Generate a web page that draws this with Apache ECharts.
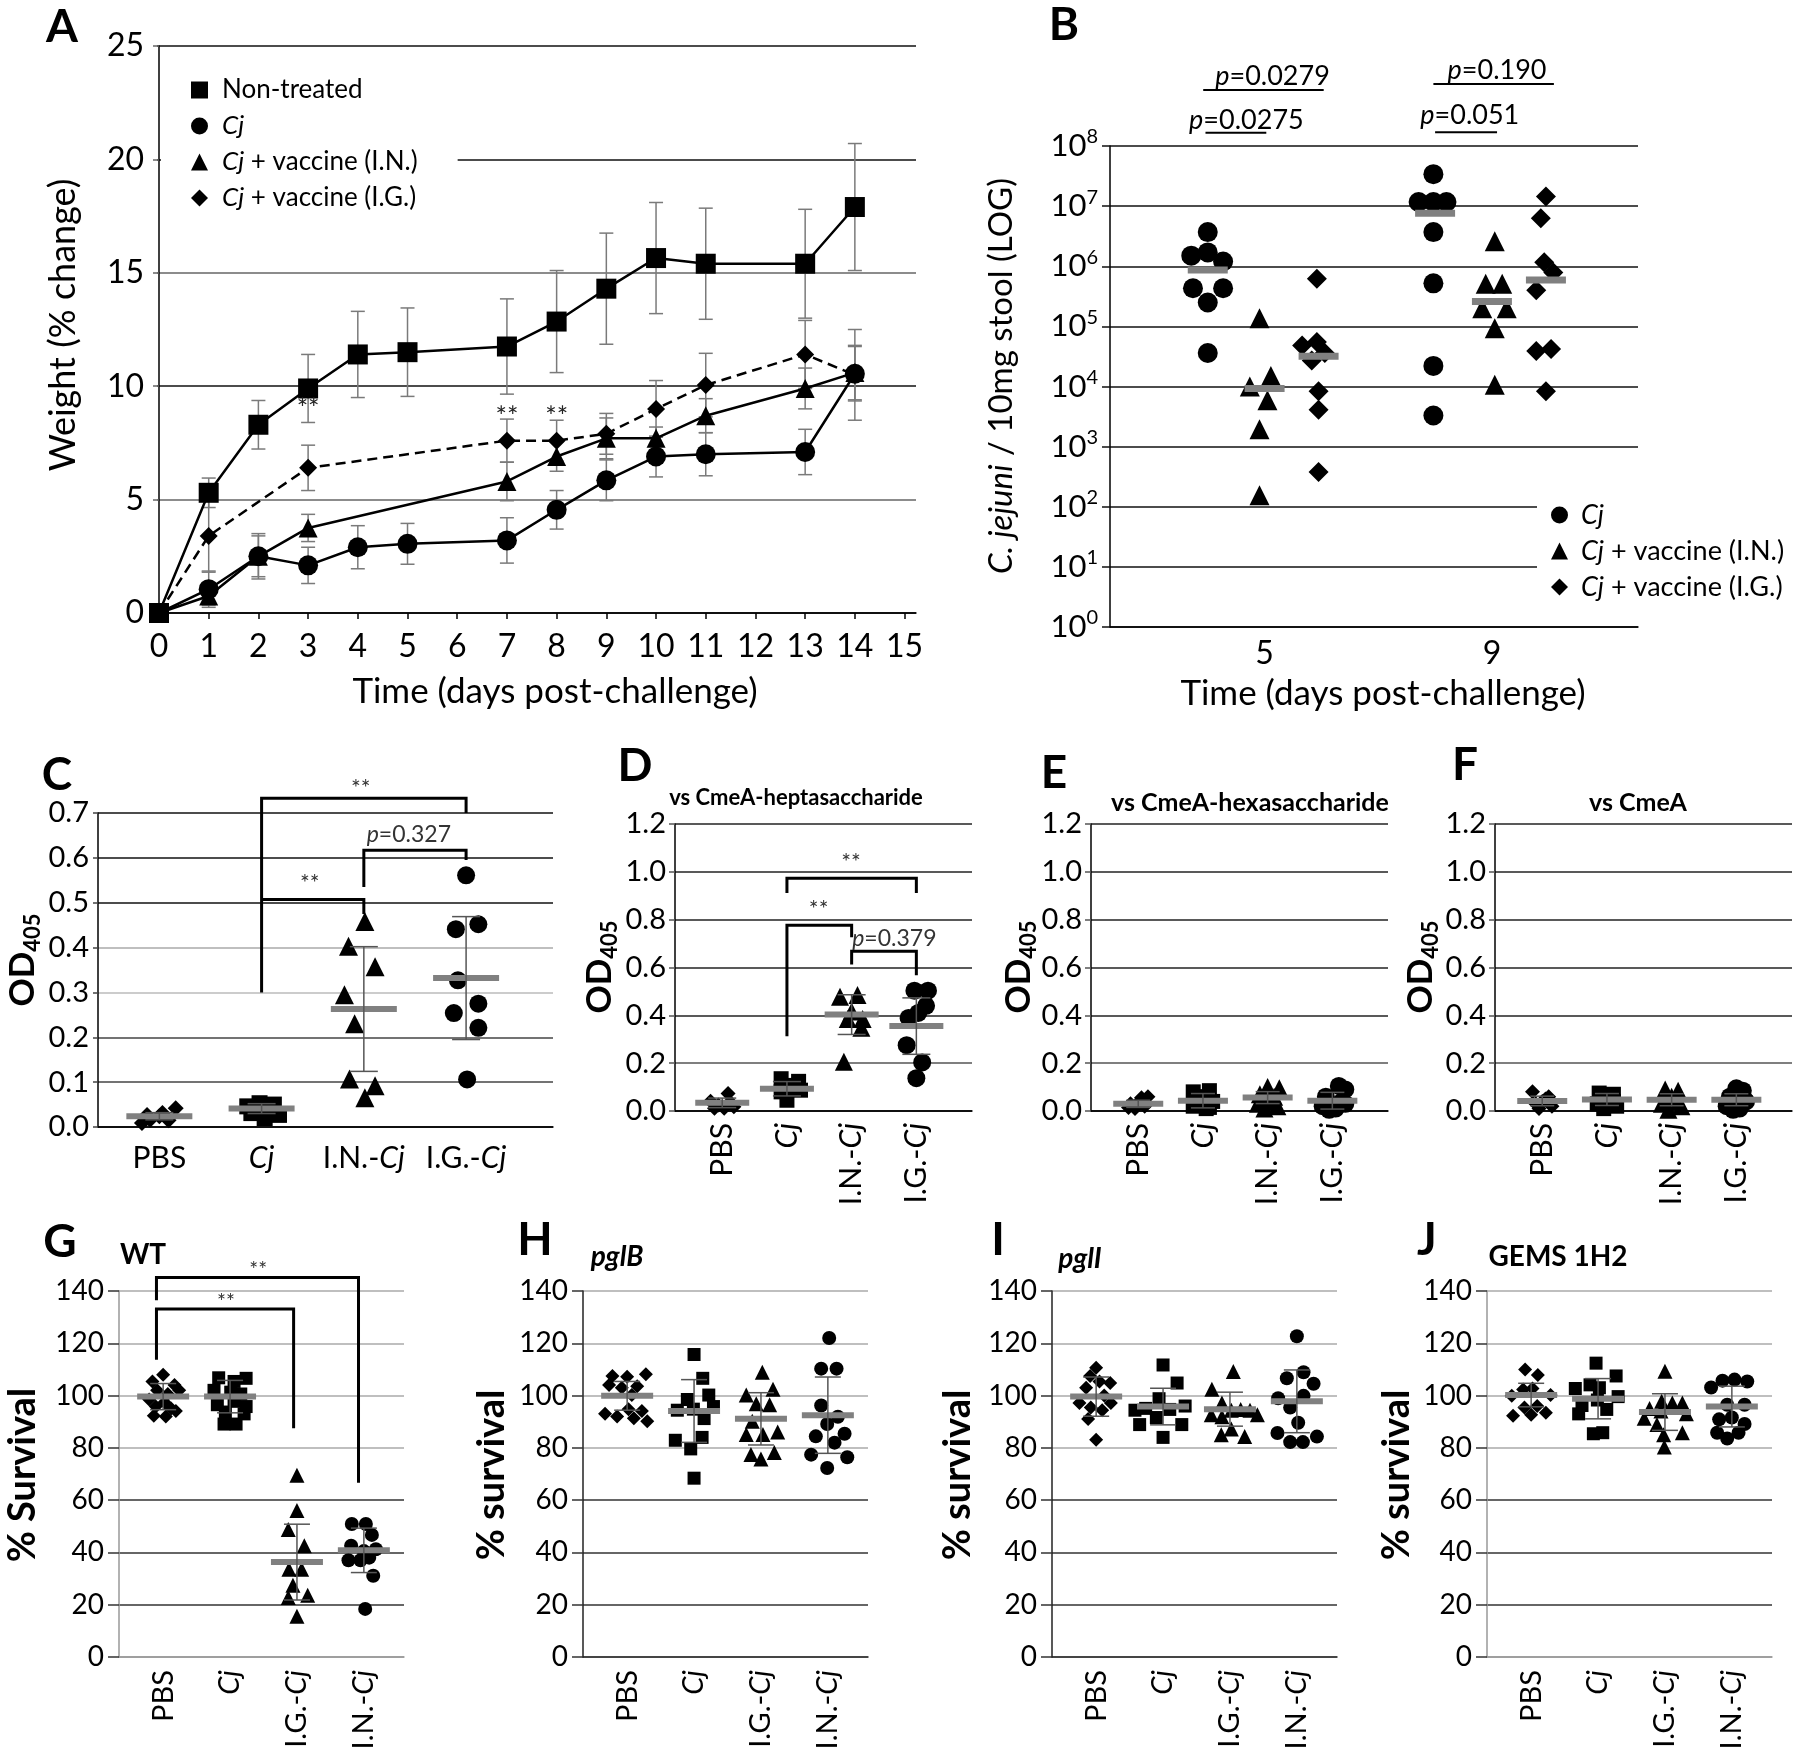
<!DOCTYPE html>
<html><head><meta charset="utf-8">
<script src="https://cdn.jsdelivr.net/npm/echarts@6/dist/echarts.min.js"></script>
<style>html,body{margin:0;padding:0;background:#fff}#c{width:1800px;height:1756px}</style>
</head><body><div id="c"></div>
<script>
const ff = 'Lato, "Liberation Sans", sans-serif';

// ---------------- Panel A : weight change ----------------
const aDays = [0,1,2,3,4,5,7,8,9,10,11,13,14];
const aNonTreated   = [0,5.3,8.3,9.9,11.4,11.5,11.75,12.85,14.3,15.65,15.4,15.4,17.9];
const aNonTreatedSD = [0,0.65,1.07,1.5,1.9,1.95,2.1,2.25,2.45,2.45,2.45,2.4,2.8];
const aCj   = [0,1.05,2.5,2.1,2.9,3.05,3.2,4.55,5.85,6.9,7.0,7.1,10.55];
const aCjSD = [0,0.8,1.0,0.8,0.95,0.9,1.0,0.85,0.9,0.9,0.95,1.0,1.2];
const aINDays = [0,1,2,3,7,8,9,10,11,13,14];
const aIN   = [0,0.75,2.5,3.75,5.8,6.9,7.7,7.7,8.7,9.9,10.6];
const aINSD = [0,0.4,0.9,0.6,0.85,0.65,0.9,0.5,0.75,0.9,1.2];
const aIGDays = [0,1,3,7,8,9,10,11,13,14];
const aIG   = [0,3.4,6.4,7.6,7.6,7.9,9.0,10.05,11.4,10.5];
const aIGSD = [0,1.6,1.0,0.95,0.9,0.9,1.25,1.4,1.5,2.0];
const aXTicks = [0,1,2,3,4,5,6,7,8,9,10,11,12,13,14,15];
const aStars = [[3,9.0],[7,8.65],[8,8.65]];

// ---------------- Panel B : colonisation (log) ----------------
const bDays = [5, 9];
// [jitter, CFU]
const bCj5 = [[0,3.7e6],[-0.29,1.5e6],[0,1.7e6],[0.27,1.2e6],[-0.26,4.3e5],[0.27,4.3e5],[0,2.5e5],[0,3.6e4]];
const bIN5 = [[-0.09,1.36e5],[0.11,1.5e4],[-0.26,1.0e4],[0.05,5.9e3],[-0.09,1.95e3],[-0.09,155]];
const bIG5 = [[-0.03,6.2e5],[-0.29,4.8e4],[-0.03,5.5e4],[0.11,3.6e4],[-0.12,2.7e4],[0,8.3e3],[0,4.1e3],[0,380]];
const bCj9 = [[-0.03,3.4e7],[-0.29,1.17e7],[-0.03,1.17e7],[0.2,1.17e7],[-0.03,3.7e6],[-0.03,5.2e5],[-0.03,2.2e4],[-0.03,3.3e3]];
const bIN9 = [[0.05,2.6e6],[-0.11,5.1e5],[0.18,5.1e5],[-0.17,2.0e5],[0.26,2.0e5],[0.05,9.3e4],[0.05,1.07e4]];
const bIG9 = [[0,1.45e7],[-0.09,6.3e6],[-0.03,1.17e6],[0.13,7.9e5],[-0.17,4.0e5],[-0.17,3.9e4],[0.09,4.2e4],[0,8.3e3]];
const bMedCj = [8.7e5, 7.6e6];
const bMedIN = [9.3e3, 2.6e5];
const bMedIG = [3.2e4, 5.9e5];
const bPLines = [[3.92,6.04,8.5e8],[3.96,5.03,1.66e8],[7.97,10.09,1.07e9],[8.0,9.09,1.7e8]];
const bPLabels = ['{i|p}=0.0279','{i|p}=0.0275','{i|p}=0.190','{i|p}=0.051'];
const bPLabelPos = [[5.14,1.45e9],[4.68,2.7e8],[9.09,1.8e9],[8.61,3.2e8]];

// ---------------- Panels C-F : ELISA OD405 ----------------
const cdefCats = ['PBS','{i|Cj}','I.N.-{i|Cj}','I.G.-{i|Cj}'];
const cPBS = [[-0.17,0.009],[-0.09,0.016],[0,0.024],[0.09,0.015],[0.16,0.042],[-0.12,0.027],[0.03,0.031]];
const cCj  = [[-0.14,0.046],[-0.02,0.053],[0.12,0.05],[-0.1,0.031],[0.03,0.02],[0.17,0.027],[0.02,0.039]];
const cIN  = [[0.01,0.458],[-0.15,0.403],[0.11,0.357],[-0.19,0.295],[-0.09,0.23],[-0.14,0.107],[0.11,0.092],[0.01,0.065]];
const cIG  = [[0,0.561],[-0.1,0.441],[0.12,0.452],[-0.08,0.327],[-0.12,0.254],[0.12,0.275],[0.12,0.221],[0.01,0.106]];
const cMean = [0.024,0.041,0.263,0.332];
const cSD   = [0.008,0.011,0.139,0.137];
const cBrackets = [[2,4,0.733,0.30,0.70],[2,3,0.507,0.507,0.475],[3,4,0.617,0.535,0.595]];
const cBracketLabels = ['**','**','{i|p}=0.327'];
const cBracketLabelPos = [[2.97,0.755],[2.47,0.542],[3.44,0.653]];

const dPBS = [[0.09,0.073],[-0.18,0.041],[-0.06,0.025],[0.03,0.011],[0.18,0.018],[-0.12,0.011],[0.12,0.038]];
const dCj  = [[-0.09,0.135],[0.18,0.124],[0,0.107],[0.09,0.093],[-0.09,0.08],[0.21,0.087],[0,0.045]];
const dIN  = [[-0.18,0.478],[0.09,0.485],[0,0.416],[-0.06,0.385],[0.17,0.385],[0.15,0.348],[-0.12,0.206]];
const dIG  = [[-0.03,0.503],[0.18,0.503],[0.15,0.44],[0.03,0.41],[-0.12,0.389],[-0.15,0.275],[0.09,0.203],[0,0.137]];
const dMean = [0.034,0.093,0.403,0.355];
const dSD   = [0.02,0.03,0.083,0.118];
const dBrackets = [[2,4,0.973,0.911,0.911],[2,3,0.777,0.313,0.726],[3,4,0.668,0.613,0.568]];
const dBracketLabels = ['**','**','{i|p}=0.379'];
const dBracketLabelPos = [[2.99,1.038],[2.49,0.843],[3.66,0.723]];

const ePBS = [[-0.12,0.03],[0.05,0.055],[0.15,0.06],[-0.05,0.01],[0.1,0.02],[-0.15,0.015],[0,0.035]];
const eCj  = [[-0.15,0.08],[0.1,0.085],[-0.1,0.05],[0.15,0.04],[-0.15,0.02],[0.1,0.015],[0,0.06],[0.05,0.01]];
const eIN  = [[0,0.1],[0.18,0.095],[-0.12,0.07],[0.1,0.06],[-0.15,0.03],[0.15,0.02],[0,0.04],[-0.05,0.01]];
const eIG  = [[0.1,0.105],[0.2,0.09],[-0.1,0.06],[0.15,0.04],[-0.15,0.02],[0.05,0.01],[-0.05,0.005],[0.2,0.03]];
const eMean = [0.03,0.043,0.056,0.043];
const eSD   = [0.015,0.03,0.025,0.035];

const fPBS = [[-0.15,0.08],[0.1,0.06],[0,0.04],[-0.1,0.03],[0.15,0.02],[-0.05,0.01],[0.05,0.05]];
const fCj  = [[-0.12,0.075],[0.1,0.07],[0,0.05],[-0.15,0.03],[0.15,0.02],[-0.05,0.01],[0.1,0.04]];
const fIN  = [[-0.1,0.09],[0.1,0.085],[0,0.06],[-0.15,0.03],[0.15,0.02],[-0.05,0.005],[0.1,0.04]];
const fIG  = [[0,0.095],[0.1,0.085],[-0.1,0.06],[0.15,0.04],[-0.15,0.02],[0.05,0.01],[-0.05,0.005],[0.12,0.05]];
const fMean = [0.042,0.048,0.047,0.047];
const fSD   = [0.02,0.025,0.025,0.025];

// ---------------- Panels G-J : % survival ----------------
const ghijCats = ['PBS','{i|Cj}','I.G.-{i|Cj}','I.N.-{i|Cj}'];
const gPBS = [[0,108],[-0.16,105.4],[0.17,104],[-0.09,102],[0.24,102],[0.07,100.6],[-0.21,98.5],[0.02,97.4],[-0.11,95.8],[0.12,95.1],[-0.14,92.3],[0.19,94.1],[0.04,92]];
const gCj  = [[-0.17,106.8],[0.06,105.4],[0.24,106.6],[-0.24,102],[0.01,101.3],[0.16,100.6],[-0.19,96.5],[0.06,97.8],[0.24,95.8],[-0.07,93.7],[0.21,93],[-0.09,89.1],[0.09,89.1]];
const gIG  = [[0,69.5],[0,56],[-0.13,48.8],[0.11,42.6],[-0.12,33.6],[0.07,33.6],[-0.06,27.4],[-0.13,22.8],[0.16,23.6],[0,15.6]];
const gIN  = [[-0.18,50.9],[0.03,50.9],[0.12,46.7],[-0.19,42.6],[0,40.5],[0.18,41.2],[-0.23,37],[-0.05,37],[0.08,38],[0.14,31.1],[0.02,18.4]];
const gMean = [99.6,99.6,36.3,40.8];
const gSD   = [5,6.2,14.5,8.5];
const gBrackets = [[0.9,3.92,145.2,136.5,66.7],[0.9,2.95,133.1,113.7,87.5]];
const gBracketLabels = ['**','**'];
const gBracketLabelPos = [[2.42,147.8],[1.94,135.6]];

const hPBS = [[-0.22,107.5],[0,107.2],[0.28,108.2],[-0.27,104],[-0.08,103],[0.15,103.6],[0.07,100.2],[0.02,94.8],[0.22,94.1],[-0.33,93],[-0.15,92],[0.1,91.3],[0.3,90.2]];
const hCj  = [[0,115.7],[0.13,106.6],[0.22,100.2],[-0.1,98.5],[0.29,95.8],[-0.25,94.4],[-0.01,94.8],[0.15,91.2],[0.12,84],[-0.28,82.9],[-0.05,79.6],[0,68.4]];
const hIG  = [[0.02,108.9],[0.18,102.4],[-0.22,100.2],[-0.07,96.9],[0.13,96.5],[-0.13,90.2],[-0.22,85.1],[0.03,85.1],[0.25,86.1],[-0.15,77.5],[0.2,78.2],[0,75.7]];
const hIN  = [[0.02,122],[-0.1,110.3],[0.13,110.3],[-0.1,96.2],[0.15,91.9],[-0.01,89.1],[-0.18,84.4],[0.25,85.4],[0.1,82],[-0.25,77.4],[0.29,76.4],[-0.01,72.3]];
const hMean = [99.9,94.1,91.1,92.5];
const hSD   = [5.5,12,10,14.6];

const iPBS = [[0,110.6],[-0.09,107.5],[-0.15,103],[0.05,105.4],[0.21,104.8],[0.12,100],[-0.25,97.2],[-0.08,95.4],[0.09,94.4],[0.22,97.2],[-0.12,91],[0,83.1]];
const iCj  = [[0,111.7],[0.21,104.8],[-0.06,98.8],[-0.42,94.4],[-0.26,95.1],[-0.1,91.6],[0.1,94.7],[0.33,96],[-0.35,88.9],[0.28,88.9],[0,84]];
const iIG  = [[0.05,109.2],[-0.27,102.4],[-0.12,97.2],[-0.28,92.7],[-0.12,91.9],[0.02,94.4],[0.16,94.7],[0.3,94.4],[0.41,92.7],[0.02,87.2],[-0.13,85],[0.22,84.3]];
const iIN  = [[0,122.7],[-0.15,106.6],[0.1,108.9],[0.25,104.5],[-0.28,99],[0.1,99.9],[-0.1,95.4],[0.02,89.6],[-0.29,85.7],[0.3,84.3],[-0.1,82.2],[0.09,82.2]];
const iMean = [99.6,95.8,94.8,97.8];
const iSD   = [7.5,7,6.5,12];

const jPBS = [[-0.09,110],[0.1,107.9],[-0.29,99.9],[-0.12,102.3],[0.02,102.7],[0.29,100.2],[-0.1,95.4],[0.09,96],[-0.27,92.3],[0.22,93.4],[0,92.7]];
const jCj  = [[-0.03,112.4],[0.27,107.5],[-0.12,104.1],[-0.34,102.7],[0.02,103],[0.3,99.6],[-0.01,98.3],[-0.24,96.2],[0.13,94.7],[-0.29,93],[-0.07,85.4],[0.07,85.8]];
const jIG  = [[0,109.3],[-0.23,95.1],[-0.05,97.8],[0.11,97.2],[0.26,97.2],[-0.31,91.3],[-0.06,94.1],[0.32,93],[-0.12,88.9],[-0.02,85],[0.26,85.8],[-0.01,80.3]];
const jIN  = [[-0.31,103.1],[-0.14,105.7],[0.04,106.1],[0.23,105.4],[-0.07,96.5],[0.19,96.5],[-0.19,90.9],[0,91.6],[0.19,89.1],[-0.22,85.8],[0.1,85.8],[-0.07,83.6]];
const jMean = [100.2,98.8,93.7,95.8];
const jSD   = [4.5,7.7,7,7.8];

// ---------------- layout ----------------
const grids = [
  {left:157, top:46, width:759, height:567},   // A
  {left:1110, top:146, width:528, height:481}, // B
  {left:98, top:813, width:455, height:314},   // C
  {left:675, top:824, width:297, height:287},  // D
  {left:1091, top:824, width:297, height:287}, // E
  {left:1495, top:824, width:297, height:287}, // F
  {left:119, top:1291, width:285, height:366}, // G
  {left:583, top:1291, width:285, height:366}, // H
  {left:1052, top:1291, width:285, height:366},// I
  {left:1487, top:1291, width:285, height:366} // J
].map(g => Object.assign({outerBoundsMode:'none', containLabel:false}, g));

const richI = (fs, extra) => ({i: Object.assign({fontStyle:'italic', fontSize:fs, fontFamily:ff, color:'#000'}, extra||{})});

function catX(gi, min, max, cats, fs, rotate, margin, axisColor) {
  return {gridIndex:gi, type:'value', min, max,
    axisLine:{show:true, lineStyle:{color:axisColor, width:1.5}},
    axisTick:{show:false},
    splitLine:{show:false},
    axisLabel:{customValues:[1,2,3,4], formatter:v => cats[Math.round(v)-1], rotate, margin,
      fontSize:fs, fontFamily:ff, color:'#000', rich:richI(fs)}};
}
function valY(gi, min, max, interval, fs, fmt, margin, gridColors, axisColor, tickLen) {
  return {gridIndex:gi, type:'value', min, max, interval,
    axisLine:{show:true, lineStyle:{color:axisColor, width:1.5}},
    axisTick:{show:true, length:tickLen, lineStyle:{color:gridColors[1], width:1.5}},
    axisLabel:{fontSize:fs, fontFamily:ff, color:'#000', margin, formatter:fmt},
    splitLine:{show:true, lineStyle:{color:gridColors, width:1.5}}};
}

const xAxes = [
  {gridIndex:0, type:'value', min:-0.04, max:15.23,
   axisLine:{lineStyle:{color:'#000', width:1.5}},
   axisTick:{show:true, customValues:aXTicks, length:6, lineStyle:{color:'#000', width:1.5}},
   axisLabel:{customValues:aXTicks, fontSize:32, fontFamily:ff, color:'#000', margin:18},
   splitLine:{show:false}},
  {gridIndex:1, type:'value', min:2.28, max:11.57,
   axisLine:{lineStyle:{color:'#000', width:1.5}}, axisTick:{show:false},
   axisLabel:{customValues:bDays, fontSize:32, fontFamily:ff, color:'#000', margin:11},
   splitLine:{show:false}},
  catX(2, 0.40, 4.85, cdefCats, 30, 0, 16, '#000'),
  catX(3, 0.27, 4.86, cdefCats, 30, 90, 12, '#000'),
  catX(4, 0.27, 4.86, cdefCats, 30, 90, 12, '#000'),
  catX(5, 0.27, 4.86, cdefCats, 30, 90, 12, '#000'),
  catX(6, 0.34, 4.6, ghijCats, 29, 90, 13, '#999'),
  catX(7, 0.34, 4.6, ghijCats, 29, 90, 13, '#222'),
  catX(8, 0.34, 4.6, ghijCats, 29, 90, 13, '#222'),
  catX(9, 0.34, 4.6, ghijCats, 29, 90, 13, '#999')
];
const f1 = v => v.toFixed(1);
const ghGrid = ['#999','#333','#333','#333','#aaa','#aaa','#aaa','#aaa'];
const yAxes = [
  valY(0, 0, 25, 5, 32, null, 13, ['#000','#666','#111','#666','#111','#111'], '#000', 6),
  {gridIndex:1, type:'log', logBase:10, min:1, max:1e8, splitNumber:8,
   axisLine:{show:true, lineStyle:{color:'#000', width:1.5}},
   axisTick:{show:true, length:8, lineStyle:{color:'#111', width:1.5}},
   axisLabel:{margin:12, formatter:v => '{b|10}{s|' + Math.round(Math.log10(v)) + '}',
     rich:{b:{fontSize:31, fontFamily:ff, color:'#000', lineHeight:38},
           s:{fontSize:20, fontFamily:ff, color:'#000', lineHeight:20, verticalAlign:'top'}}},
   splitLine:{show:true, lineStyle:{color:'#111', width:1.5}}},
  valY(2, 0, 0.7, 0.1, 29, f1, 9, ['#000','#444','#444','#bbb','#aaa','#111','#111','#111'], '#000', 5),
  valY(3, 0, 1.2, 0.2, 29, f1, 9, ['#000','#555','#222','#222','#222','#222','#222'], '#000', 6),
  valY(4, 0, 1.2, 0.2, 29, f1, 9, ['#000','#555','#222','#222','#222','#222','#222'], '#000', 6),
  valY(5, 0, 1.2, 0.2, 29, f1, 9, ['#000','#555','#222','#222','#222','#222','#222'], '#000', 6),
  valY(6, 0, 140, 20, 28, null, 15, ghGrid, '#999', 11),
  valY(7, 0, 140, 20, 28, null, 15, ghGrid, '#222', 11),
  valY(8, 0, 140, 20, 28, null, 15, ghGrid, '#222', 11),
  valY(9, 0, 140, 20, 28, null, 15, ghGrid, '#999', 11)
];

// ---------------- renderers ----------------
function errRender(o) {
  return function (params, api) {
    const x = api.value(0), m = api.value(1), sd = api.value(2);
    const c = api.coord([x, m]), t = api.coord([x, m + sd]), b = api.coord([x, Math.max(m - sd, 0)]);
    const cw = o.cap / 2, ls = {stroke:o.color, lineWidth:o.lw};
    const ch = [];
    if (o.meanW) ch.push({type:'rect', shape:{x:c[0]-o.meanW/2, y:c[1]-o.meanH/2, width:o.meanW, height:o.meanH}, style:{fill:o.meanColor}});
    if (sd > 0) {
      ch.push({type:'line', shape:{x1:t[0], y1:t[1], x2:b[0], y2:b[1]}, style:ls});
      ch.push({type:'line', shape:{x1:t[0]-cw, y1:t[1], x2:t[0]+cw, y2:t[1]}, style:ls});
      ch.push({type:'line', shape:{x1:b[0]-cw, y1:b[1], x2:b[0]+cw, y2:b[1]}, style:ls});
    }
    return {type:'group', children:ch};
  };
}
function bracketRender(labels, pos, fs, lw, textColor) {
  return function (params, api) {
    const i = params.dataIndex;
    const x1 = api.value(0), x2 = api.value(1), yT = api.value(2), yL = api.value(3), yR = api.value(4);
    const pts = [api.coord([x1, yL]), api.coord([x1, yT]), api.coord([x2, yT]), api.coord([x2, yR])];
    const lp = api.coord(pos[i]);
    return {type:'group', children:[
      {type:'polyline', shape:{points:pts}, style:{stroke:'#000', lineWidth:lw, fill:null}},
      {type:'text', x:lp[0], y:lp[1], style:{text:labels[i], fontSize:fs, fontFamily:ff, fill:textColor,
        align:'center', verticalAlign:'middle', rich:{i:{fontStyle:'italic', fontSize:fs, fontFamily:ff, color:textColor}}}}
    ]};
  };
}
function textRender(text, fs, color) {
  return function (params, api) {
    const p = api.coord([api.value(0), api.value(1)]);
    return {type:'text', x:p[0], y:p[1], style:{text, fontSize:fs, fontFamily:ff, fill:color, align:'center', verticalAlign:'middle'}};
  };
}
function medianRender(w, h, color) {
  return function (params, api) {
    const c = api.coord([api.value(0), api.value(1)]);
    return {type:'rect', shape:{x:c[0]-w/2, y:c[1]-h/2, width:w, height:h}, style:{fill:color}};
  };
}

const series = [];
const blackItem = {color:'#000', opacity:1};
// ----- A -----
const aLineDefs = [
  {name:'Non-treated', days:aDays, vals:aNonTreated, sd:aNonTreatedSD, symbol:'rect', size:20, dash:'solid'},
  {name:'Cj', days:aDays, vals:aCj, sd:aCjSD, symbol:'circle', size:20, dash:'solid'},
  {name:'Cj + vaccine (I.N.)', days:aINDays, vals:aIN, sd:aINSD, symbol:'triangle', size:19, dash:'solid'},
  {name:'Cj + vaccine (I.G.)', days:aIGDays, vals:aIG, sd:aIGSD, symbol:'diamond', size:18, dash:[10,6]}
];
aLineDefs.forEach(d => {
  series.push({type:'custom', xAxisIndex:0, yAxisIndex:0, clip:false, silent:true, z:1,
    data:d.days.map((x, k) => [x, d.vals[k], d.sd[k]]), encode:{x:0, y:1},
    renderItem:errRender({cap:14, color:'#7a7a7a', lw:1.5})});
});
aLineDefs.forEach(d => {
  series.push({type:'line', name:d.name, xAxisIndex:0, yAxisIndex:0, z:3, silent:true,
    data:d.days.map((x, k) => [x, d.vals[k]]), symbol:d.symbol, symbolSize:d.size, showSymbol:true,
    itemStyle:blackItem, lineStyle:{color:'#000', width:2.5, type:d.dash}});
});
series.push({type:'custom', xAxisIndex:0, yAxisIndex:0, clip:false, silent:true, z:4,
  data:aStars, renderItem:textRender('**', 27, '#222')});

// ----- B -----
const bCenterOff = [-1.0, 0, 0.95];
const bGroups = [[bCj5, bCj9], [bIN5, bIN9], [bIG5, bIG9]];
const bNames = ['Cj', 'Cj + vaccine (I.N.)', 'Cj + vaccine (I.G.)'];
const bSyms = ['circle', 'triangle', 'diamond'];
const bMeds = [bMedCj, bMedIN, bMedIG];
bGroups.forEach((g, gi) => {
  const data = [];
  g.forEach((pts, di) => pts.forEach(([dx, v]) => data.push([bDays[di] + bCenterOff[gi] + dx, v])));
  series.push({type:'scatter', name:bNames[gi], xAxisIndex:1, yAxisIndex:1, symbol:bSyms[gi], symbolSize:20,
    itemStyle:blackItem, data, silent:true, z:3});
  series.push({type:'custom', xAxisIndex:1, yAxisIndex:1, clip:false, silent:true, z:4,
    data:bMeds[gi].map((m, di) => [bDays[di] + bCenterOff[gi], m]), renderItem:medianRender(40, 7, '#808080')});
});
series.push({type:'custom', xAxisIndex:1, yAxisIndex:1, clip:false, silent:true, z:4,
  data:bPLines.map(l => [l[0], l[1], l[2], l[2], l[2]]), encode:{x:[0,1], y:[2,3,4]},
  renderItem:bracketRender(bPLabels, bPLabelPos, 27, 2, '#000')});

// ----- C-J scatter panels -----
function dotPanel(ai, groups, syms, size, mean, sd, o) {
  groups.forEach((pts, gi) => {
    series.push({type:'scatter', xAxisIndex:ai, yAxisIndex:ai, symbol:syms[gi], symbolSize:size[gi],
      itemStyle:blackItem, silent:true, z:3, data:pts.map(([dx, v]) => [gi + 1 + dx, v])});
  });
  series.push({type:'custom', xAxisIndex:ai, yAxisIndex:ai, clip:false, silent:true, z:4,
    data:mean.map((m, k) => [k + 1, m, sd[k]]), encode:{x:0, y:1},
    renderItem:errRender({cap:o.cap, color:'#555', lw:1.5, meanW:o.meanW, meanH:6, meanColor:'#808080'})});
}
function bracketPanel(ai, br, labels, pos, fs) {
  series.push({type:'custom', xAxisIndex:ai, yAxisIndex:ai, clip:false, silent:true, z:5,
    data:br, encode:{x:[0,1], y:[2,3,4]}, renderItem:bracketRender(labels, pos, fs, 3, '#333')});
}
const symCF = ['diamond','rect','triangle','circle'];
const symGJ = ['diamond','rect','triangle','circle'];
dotPanel(2, [cPBS, cCj, cIN, cIG], symCF, [16,16,19,18], cMean, cSD, {cap:28, meanW:66});
bracketPanel(2, cBrackets, cBracketLabels, cBracketLabelPos, 23);
dotPanel(3, [dPBS, dCj, dIN, dIG], symCF, [15,15,18,18], dMean, dSD, {cap:28, meanW:54});
bracketPanel(3, dBrackets, dBracketLabels, dBracketLabelPos, 23);
dotPanel(4, [ePBS, eCj, eIN, eIG], symCF, [15,15,18,18], eMean, eSD, {cap:24, meanW:50});
dotPanel(5, [fPBS, fCj, fIN, fIG], symCF, [15,15,18,18], fMean, fSD, {cap:24, meanW:50});
dotPanel(6, [gPBS, gCj, gIG, gIN], symGJ, [14,13,15,14], gMean, gSD, {cap:26, meanW:52});
bracketPanel(6, gBrackets, gBracketLabels, gBracketLabelPos, 21);
dotPanel(7, [hPBS, hCj, hIG, hIN], symGJ, [14,13,15,14], hMean, hSD, {cap:26, meanW:52});
dotPanel(8, [iPBS, iCj, iIG, iIN], symGJ, [14,13,15,14], iMean, iSD, {cap:26, meanW:52});
dotPanel(9, [jPBS, jCj, jIG, jIN], symGJ, [14,13,15,14], jMean, jSD, {cap:26, meanW:52});

// ---------------- texts ----------------
function gt(x, y, text, fs, weight, opt) {
  opt = opt || {};
  return {type:'text', x, y, rotation:opt.rot || 0, silent:true, z:50,
    style:{text, fontSize:fs, fontWeight:weight, fontFamily:ff, fontStyle:opt.italic ? 'italic' : 'normal', fill:'#000',
      align:'center', verticalAlign:'middle', rich:opt.rich}};
}
const R = Math.PI / 2;
const odRich = {b:{fontSize:35, fontWeight:'bold', fontFamily:ff, color:'#000', lineHeight:42},
                s:{fontSize:22, fontWeight:'bold', fontFamily:ff, color:'#000', lineHeight:26, verticalAlign:'bottom'}};
const graphics = [
  gt(62,27,'A',46,'bold'), gt(1064,25,'B',46,'bold'), gt(57,775,'C',46,'bold'), gt(635,766,'D',46,'bold'),
  gt(1054,773,'E',46,'bold'), gt(1465,765,'F',46,'bold'), gt(60,1242,'G',46,'bold'), gt(535,1240,'H',46,'bold'),
  gt(998,1240,'I',46,'bold'), gt(1427,1240,'J',46,'bold'),
  gt(63,325,'Weight (% change)',36,'normal',{rot:R}),
  gt(555,692,'Time (days post-challenge)',35,'normal'),
  gt(1001,376,'{i|C. jejuni} / 10mg stool (LOG)',33,'normal',{rot:R, rich:richI(33)}),
  gt(1383,694,'Time (days post-challenge)',35,'normal'),
  gt(23,960,'{b|OD}{s|405}',35,'bold',{rot:R, rich:odRich}),
  gt(600,967,'{b|OD}{s|405}',35,'bold',{rot:R, rich:odRich}),
  gt(1019,967,'{b|OD}{s|405}',35,'bold',{rot:R, rich:odRich}),
  gt(1421,967,'{b|OD}{s|405}',35,'bold',{rot:R, rich:odRich}),
  gt(796,798,'vs CmeA-heptasaccharide',22,'bold'),
  gt(1250,803,'vs CmeA-hexasaccharide',25,'bold'),
  gt(1638,803,'vs CmeA',25,'bold'),
  gt(23,1475,'% Survival',38,'bold',{rot:R}),
  gt(492,1475,'% survival',38,'bold',{rot:R}),
  gt(958,1475,'% survival',38,'bold',{rot:R}),
  gt(1397,1475,'% survival',38,'bold',{rot:R}),
  gt(143,1255,'WT',28,'bold'),
  gt(617,1257,'pglB',28,'bold',{italic:true}),
  gt(1080,1259,'pglI',28,'bold',{italic:true}),
  gt(1558,1257,'GEMS 1H2',28,'bold')
];

const legFmt = n => '{sp|}' + (n.startsWith('Cj') ? '{i|Cj}' + n.slice(2) : n);
const legTextA = {fontSize:26, fontFamily:ff, color:'#000', lineHeight:28,
  rich:Object.assign(richI(26), {sp:{width:9}})};
const legTextB = {fontSize:27, fontFamily:ff, color:'#000', lineHeight:28,
  rich:Object.assign(richI(27), {sp:{width:8}})};
const option = {
  animation:false, backgroundColor:'#fff',
  grid:grids, xAxis:xAxes, yAxis:yAxes, series, graphic:graphics,
  legend:[
    {orient:'vertical', left:161, top:72, itemWidth:17, itemHeight:17, itemGap:8, selectedMode:false,
     backgroundColor:'#fff', padding:[4,40,4,30], textStyle:legTextA, formatter:legFmt,
     data:[{name:'Non-treated', icon:'rect'},{name:'Cj', icon:'circle'},{name:'Cj + vaccine (I.N.)', icon:'triangle'},{name:'Cj + vaccine (I.G.)', icon:'diamond'}]},
    {orient:'vertical', left:1537, top:497, itemWidth:17, itemHeight:17, itemGap:8, selectedMode:false,
     backgroundColor:'#fff', padding:[4,10,4,14], textStyle:legTextB, formatter:legFmt,
     data:[{name:'Cj', icon:'circle'},{name:'Cj + vaccine (I.N.)', icon:'triangle'},{name:'Cj + vaccine (I.G.)', icon:'diamond'}]}
  ]
};
const chart = echarts.init(document.getElementById('c'));
chart.setOption(option);
</script></body></html>
